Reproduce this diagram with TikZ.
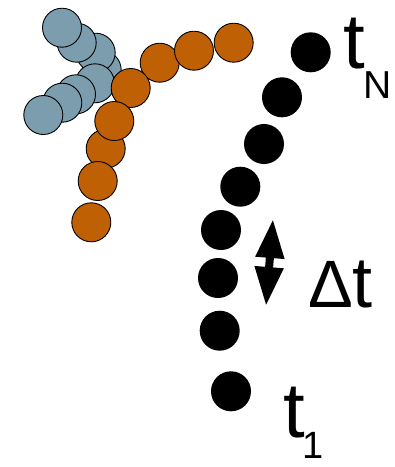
\documentclass[tikz,border=0pt]{standalone}
\usepackage{fontspec}
\setmainfont{Liberation Sans}
\usetikzlibrary{arrows.meta}
\definecolor{beadblue}{HTML}{7C9DAD}
\definecolor{beadorange}{HTML}{BF6005}
\tikzset{
  bluebead/.style={circle, draw=black, line width=0.9pt, fill=beadblue, minimum size=39pt, inner sep=0pt},
  orangebead/.style={circle, draw=black, line width=0.9pt, fill=beadorange, minimum size=39pt, inner sep=0pt},
  blackbead/.style={circle, fill=black, minimum size=40pt, inner sep=0pt},
  biglabel/.style={inner sep=0pt, anchor=base west, font=\fontsize{67}{67}\selectfont},
  timelabel/.style={inner sep=0pt, anchor=base west, font=\fontsize{78}{78}\selectfont}
}
\begin{document}
\begin{tikzpicture}[x=1pt,y=-1pt]
\useasboundingbox (0,0) rectangle (395,467);
% blue chain
\node[bluebead] (b4) at (101.7,70) {};
\node[bluebead] (b3) at (95.7,52.7) {};
\node[bluebead] (b2) at (76.7,42.7) {};
\node[bluebead] (b1) at (62,27.7) {};
\node[bluebead] (b5) at (95,83.3) {};
\node[bluebead] (b6) at (76,94.3) {};
\node[bluebead] (b7) at (62.3,102.7) {};
\node[bluebead] (b8) at (43.3,115) {};
% orange chain
\node[orangebead] (o6) at (159.7,62.7) {};
\node[orangebead] (o7) at (194,50.7) {};
\node[orangebead] (o8) at (233.7,42.7) {};
\node[orangebead] (o5) at (130.7,88) {};
\node[orangebead] (o3) at (105.7,148.7) {};
\node[orangebead] (o2) at (97.7,181) {};
\node[orangebead] (o1) at (91.3,222.3) {};
\node[orangebead] (o4) at (114.3,121) {};
% black chain
\node[blackbead] (k8) at (310.7,52.3) {};
\node[blackbead] (k7) at (282,97.3) {};
\node[blackbead] (k6) at (264,144) {};
\node[blackbead] (k5) at (240.3,186.7) {};
\node[blackbead] (k4) at (221,230) {};
\node[blackbead] (k3) at (218,278) {};
\node[blackbead] (k2) at (219.7,330.7) {};
\node[blackbead] (k1) at (231,391.3) {};
% labels
\node[timelabel] (tN) at (343,68) {t\hspace{-1pt}\raisebox{-30pt}{\fontsize{39}{39}\selectfont N}};
\node[biglabel] (dt) at (308,307) {Δ\fontsize{72}{72}\selectfont t};
\node[timelabel] (t1) at (283,437) {t\hspace{-2pt}\raisebox{-21pt}{\fontsize{38}{38}\selectfont 1}};
% double arrow
\coordinate (dtTop) at (273,219);
\coordinate (dtBot) at (266,306);
\draw[line width=8pt, {Triangle[length=39pt,width=27pt]}-{Triangle[length=39pt,width=27pt]}] (dtBot) -- (dtTop);
\end{tikzpicture}
\end{document}
